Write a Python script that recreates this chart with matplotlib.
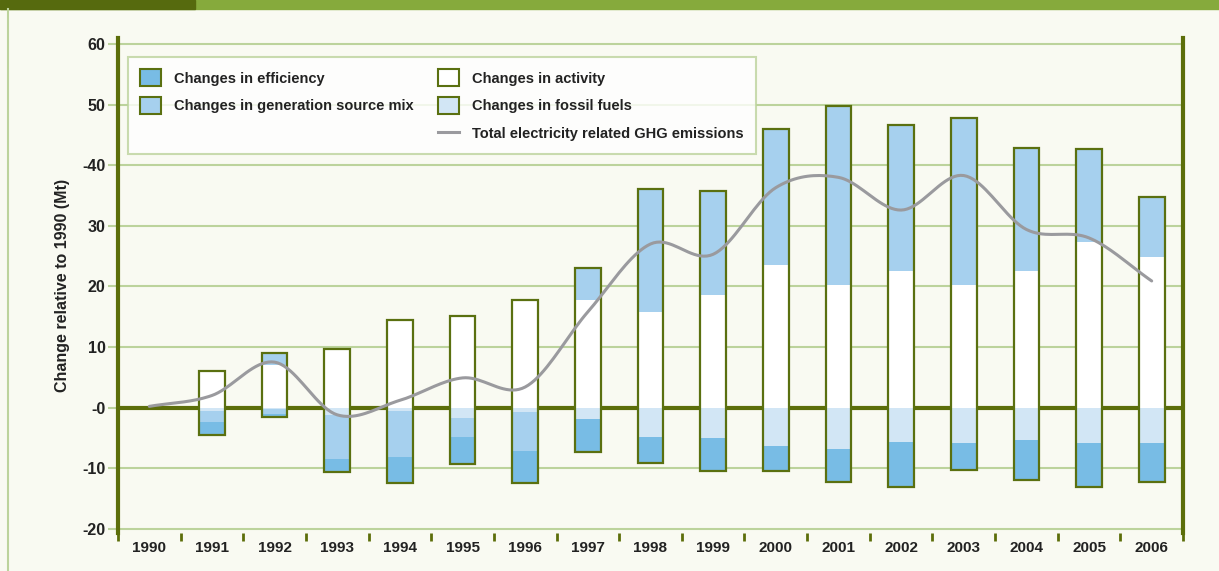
# ==========================================
# ELECTRICITY GHG DECOMPOSITION — STACKED BARS
# ==========================================

import numpy as np
import matplotlib
matplotlib.use("Agg")
import matplotlib.pyplot as plt
from matplotlib.patches import Patch, Rectangle
from matplotlib.lines import Line2D

plt.rcParams["font.family"] = ["Liberation Sans", "DejaVu Sans"]

# ==========================================
# DATA (Mt, change relative to 1990)
# ==========================================

years = ["1990", "1991", "1992", "1993", "1994", "1995", "1996", "1997", "1998",
         "1999", "2000", "2001", "2002", "2003", "2004", "2005", "2006"]

activity = [0, 6.0, 7.1, 9.7, 14.4, 15.1, 17.7, 17.8, 15.7,
            18.5, 23.6, 20.3, 22.6, 20.3, 22.6, 27.4, 24.8]
genmix_pos = [0, 0, 1.9, 0, 0, 0, 0, 5.2, 20.4,
              17.3, 22.3, 29.4, 24.0, 27.5, 20.2, 15.3, 10.0]
fossil = [0, -0.5, -0.3, -1.3, -0.5, -1.8, -0.7, -1.9, -4.8,
          -5.1, -6.4, -6.8, -5.6, -5.8, -5.4, -5.8, -5.9]
genmix_neg = [0, -1.9, -0.7, -7.2, -7.7, -3.1, -6.5, 0, 0,
              0, 0, 0, 0, 0, 0, 0, 0]
efficiency = [0, -2.2, -0.6, -2.1, -4.2, -4.4, -5.2, -5.5, -4.4,
              -5.4, -4.1, -5.4, -7.5, -4.5, -6.6, -7.3, -6.3]
total = [0.2, 2.0, 7.5, -1.2, 1.2, 4.9, 3.4, 15.8, 27.0,
         25.3, 36.3, 38.0, 32.6, 38.3, 29.4, 28.0, 20.9]

ytick_vals = [60, 50, 40, 30, 20, 10, 0, -10, -20]
ytick_text = ["60", "50", "-40", "30", "20", "10", "-0", "-10", "-20"]

# ==========================================
# COLOURS
# ==========================================

c_eff = "#78bce5"
c_mix = "#a6d0ee"
c_fos = "#d2e6f5"
c_act = "#ffffff"
c_edge = "#5a7010"
c_axis = "#5c6e0a"
c_grid = "#bcd39c"
c_bg = "#f9faf2"
c_line = "#9a9a9e"


def smooth(xs, ys, n=20):
    # Catmull-Rom curve through the yearly points (drawing only)
    xs = np.asarray(xs, float)
    ys = np.asarray(ys, float)
    px = np.concatenate([[2 * xs[0] - xs[1]], xs, [2 * xs[-1] - xs[-2]]])
    py = np.concatenate([[2 * ys[0] - ys[1]], ys, [2 * ys[-1] - ys[-2]]])
    ox, oy = [], []
    t = np.linspace(0, 1, n, endpoint=False)
    for i in range(1, len(px) - 2):
        for p, out in ((px, ox), (py, oy)):
            p0, p1, p2, p3 = p[i - 1], p[i], p[i + 1], p[i + 2]
            out.extend(0.5 * ((2 * p1) + (-p0 + p2) * t
                              + (2 * p0 - 5 * p1 + 4 * p2 - p3) * t ** 2
                              + (-p0 + 3 * p1 - 3 * p2 + p3) * t ** 3))
    ox.append(xs[-1])
    oy.append(ys[-1])
    return np.array(ox), np.array(oy)


# ==========================================
# FIGURE
# ==========================================

fig = plt.figure(figsize=(12.19, 5.71), dpi=100, facecolor=c_bg)
ax = fig.add_axes([118 / 1219, 1 - 533 / 571, 1065 / 1219, 495 / 571])
ax.set_facecolor(c_bg)

# page decoration
fig.patches.append(Rectangle((0, 1 - 9 / 571), 1, 9 / 571, transform=fig.transFigure,
                             color="#86aa3c", zorder=0))
fig.patches.append(Rectangle((0, 1 - 9 / 571), 195 / 1219, 9 / 571, transform=fig.transFigure,
                             color="#566a0e", zorder=1))
fig.lines.append(Line2D([8 / 1219, 8 / 1219], [0, 1 - 9 / 571], transform=fig.transFigure,
                        color=c_grid, lw=1.5))

x = np.arange(len(years))
w = 0.41

act = np.array(activity)
mpos = np.array(genmix_pos)
fos = np.array(fossil)
mneg = np.array(genmix_neg)
eff = np.array(efficiency)

ax.bar(x, act, w, color=c_act, zorder=3)
ax.bar(x, mpos, w, bottom=act, color=c_mix, zorder=3)
ax.bar(x, fos, w, color=c_fos, zorder=3)
ax.bar(x, mneg, w, bottom=fos, color=c_mix, zorder=3)
ax.bar(x, eff, w, bottom=fos + mneg, color=c_eff, zorder=3)

tops = act + mpos
bots = fos + mneg + eff
for xi, t, b in zip(x, tops, bots):
    if t - b > 0:
        ax.bar(xi, t - b, w, bottom=b, fill=False, edgecolor=c_edge, lw=1.6, zorder=4)

sx, sy = smooth(x, total)
ax.plot(sx, sy, color=c_line, lw=2.2, zorder=5, solid_capstyle="round")

# grid and zero line
for v in ytick_vals:
    if v != 0:
        ax.axhline(v, color=c_grid, lw=1.5, zorder=1)
ax.axhline(0, color=c_axis, lw=3, zorder=2)

ax.set_xlim(-0.5, len(years) - 0.5)
ax.set_ylim(-20.7, 61.0)

for s in ["top", "bottom"]:
    ax.spines[s].set_visible(False)
for s in ["left", "right"]:
    ax.spines[s].set_color(c_axis)
    ax.spines[s].set_linewidth(3)

ax.set_yticks(ytick_vals)
ax.set_yticklabels(ytick_text, fontsize=11.5, fontweight="bold", color="#222222")
ax.tick_params(axis="y", length=7, width=1.5, color=c_grid, pad=2)

ax.set_xticks(x)
ax.set_xticklabels(years, fontsize=11, fontweight="bold", color="#222222")
ax.tick_params(axis="x", length=0, pad=6)
ax.set_xticks(np.arange(-0.5, len(years), 1), minor=True)
ax.tick_params(axis="x", which="minor", length=6, width=2, color=c_axis, direction="out")
for t in ax.xaxis.get_minorticklines():
    t.set_clip_on(False)

ax.set_ylabel("Change relative to 1990 (Mt)", fontsize=11.5, fontweight="bold",
              color="#222222", labelpad=9)

# ==========================================
# LEGEND
# ==========================================

handles = [
    Patch(facecolor=c_eff, edgecolor=c_edge, lw=1.5),
    Patch(facecolor=c_mix, edgecolor=c_edge, lw=1.5),
    Patch(facecolor="none", edgecolor="none"),
    Patch(facecolor=c_act, edgecolor=c_edge, lw=1.5),
    Patch(facecolor=c_fos, edgecolor=c_edge, lw=1.5),
    Line2D([0], [0], color=c_line, lw=2.2),
]
labels = ["Changes in efficiency", "Changes in generation source mix", "",
          "Changes in activity", "Changes in fossil fuels",
          "Total electricity related GHG emissions"]

leg = ax.legend(handles, labels, ncol=2, loc="upper left",
                bbox_to_anchor=(0.0094, 0.9616), borderaxespad=0,
                prop={"weight": "bold", "size": 10.5}, frameon=True, fancybox=False,
                handlelength=1.4, handleheight=1.4, handletextpad=0.9,
                labelspacing=0.75, columnspacing=1.7, borderpad=0.85)
leg.get_frame().set_facecolor("white")
leg.get_frame().set_edgecolor(c_grid)
leg.get_frame().set_linewidth(1.5)
leg.set_zorder(6)
for txt in leg.get_texts():
    txt.set_color("#222222")

fig.savefig("out.png", dpi=100, facecolor=c_bg)
